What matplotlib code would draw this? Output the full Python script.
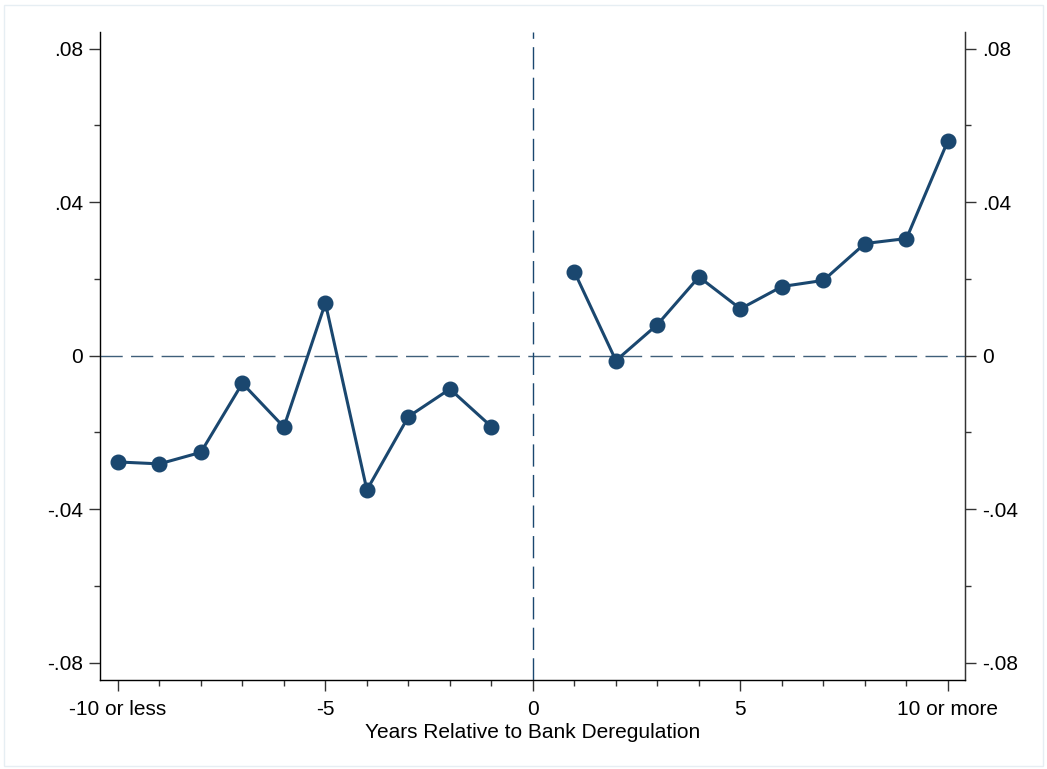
import matplotlib
matplotlib.use("Agg")
import matplotlib.pyplot as plt
import numpy as np

plt.rcParams['font.family'] = ['Liberation Sans', 'DejaVu Sans']

pre_x = [-10, -9, -8, -7, -6, -5, -4, -3, -2, -1]
pre_y = [-0.0277, -0.0282, -0.0252, -0.0072, -0.0186, 0.0137, -0.0350, -0.0159, -0.0087, -0.0185]
post_x = [1, 2, 3, 4, 5, 6, 7, 8, 9, 10]
post_y = [0.0218, -0.0013, 0.0081, 0.0205, 0.0122, 0.0180, 0.0196, 0.0292, 0.0305, 0.0560]

xtick_pos = [-10, -5, 0, 5, 10]
xtick_labels = ['-10 or less', '-5', '0', '5', '10 or more']
ytick_pos = [-0.08, -0.04, 0, 0.04, 0.08]
ytick_labels = ['-.08', '-.04', '0', '.04', '.08']

navy = '#1a476f'
fs = 15

fig = plt.figure(figsize=(10.47, 7.69), dpi=100)
W, H = 1047, 769
ax = fig.add_axes([100 / W, 1 - 680 / H, 865 / W, 648 / H])

ax.plot(pre_x, pre_y, color=navy, lw=2.2, marker='o', ms=10.5, zorder=3)
ax.plot(post_x, post_y, color=navy, lw=2.2, marker='o', ms=10.5, zorder=3)

ax.axhline(0, color='#3f5f7a', lw=1.0, dashes=(16, 6), zorder=1)
ax.axvline(0, color=navy, lw=1.0, dashes=(16, 6), zorder=1)

ax.set_xlim(-10.43, 10.41)
ax.set_ylim(-0.0845, 0.0843)

ax.set_xticks(xtick_pos)
ax.set_xticklabels(xtick_labels)
ax.set_xticks(list(range(-10, 11)), minor=True)
ax.set_yticks(ytick_pos)
ax.set_yticklabels(ytick_labels)
ax.set_yticks([-0.06, -0.02, 0.02, 0.06], minor=True)

ax.spines['top'].set_visible(False)
for s in ['left', 'right', 'bottom']:
    ax.spines[s].set_color('#333333')
    ax.spines[s].set_linewidth(1.0)

ax.tick_params(axis='both', which='major', length=8, width=1.0, color='#333333',
               labelsize=fs, pad=4)
ax.tick_params(axis='x', which='major', pad=6.5)
ax.tick_params(axis='both', which='minor', length=4, width=1.0, color='#333333')

ax2 = ax.twinx()
ax2.set_ylim(ax.get_ylim())
ax2.set_yticks(ytick_pos)
ax2.set_yticklabels(ytick_labels)
ax2.set_yticks([-0.06, -0.02, 0.02, 0.06], minor=True)
ax2.spines['top'].set_visible(False)
ax2.spines['right'].set_color('#333333')
ax2.tick_params(axis='y', which='major', length=8, width=1.0, color='#333333',
                labelsize=fs, pad=4)
ax2.tick_params(axis='y', which='minor', length=4, width=1.0, color='#333333')

ax.set_xlabel('Years Relative to Bank Deregulation', fontsize=fs, labelpad=2.5)

fig.patches.append(plt.Rectangle((0.004, 0.004), 0.992, 0.99, transform=fig.transFigure,
                                 fill=False, edgecolor='#e6eef3', lw=1))

fig.savefig('out.png', dpi=100)
